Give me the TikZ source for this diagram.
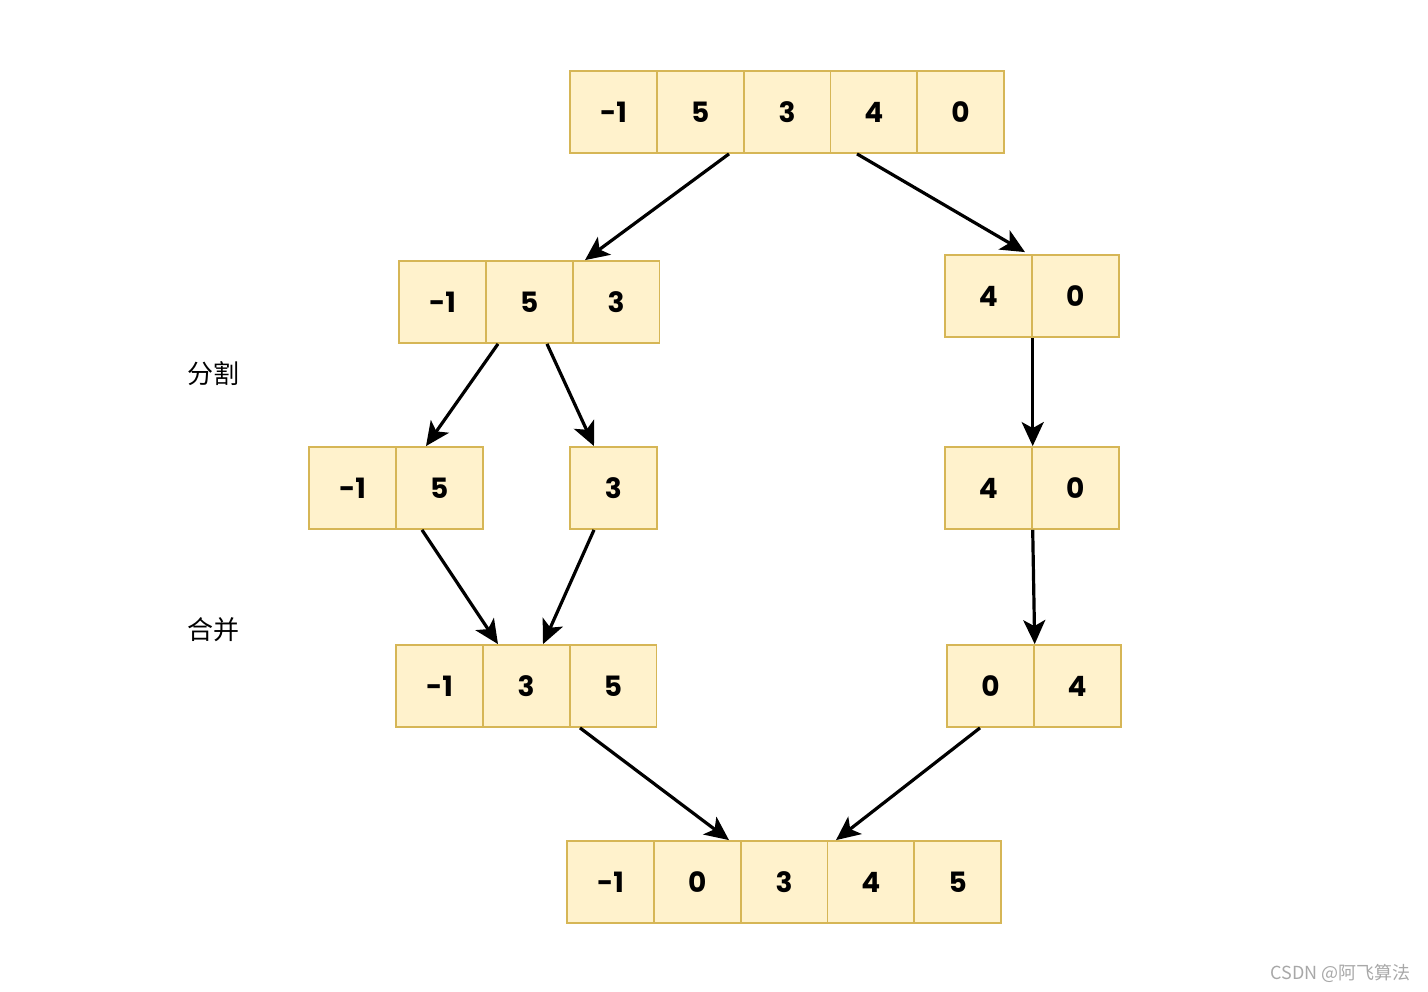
\documentclass[tikz,border=0pt]{standalone}
\usepackage{fontspec}
\setmainfont{Poppins}
\newfontfamily\cjk{Noto Sans CJK SC}
\usetikzlibrary{arrows.meta,calc}
\definecolor{cellfill}{HTML}{FFF2CC}
\definecolor{celldraw}{HTML}{D6B656}
\definecolor{wm}{HTML}{A8A8A8}
\tikzset{
  cell/.style={draw=celldraw,fill=cellfill,line width=1.8pt,minimum width=86.8pt,minimum height=82pt,inner sep=0pt,font=\fontsize{28}{28}\selectfont\bfseries},
  arr/.style={line width=3.2pt,-{Stealth[length=24pt,width=22pt,inset=6pt]}},
  lbl/.style={font=\cjk\fontsize{26}{26}\selectfont}
}
\begin{document}
\begin{tikzpicture}[x=1pt,y=-1pt]
\useasboundingbox (0,0) rectangle (1428,992);
% rows
\foreach \v [count=\i] in {-1,5,3,4,0}
  \node[cell] (a\i) at ({570+43.4+(\i-1)*86.8},112) {\v};
\foreach \v [count=\i] in {-1,5,3}
  \node[cell] (bl\i) at ({399+43.4+(\i-1)*86.8},302) {\v};
\foreach \v [count=\i] in {4,0}
  \node[cell] (br\i) at ({945+43.4+(\i-1)*86.8},296) {\v};
\foreach \v [count=\i] in {-1,5}
  \node[cell] (cl\i) at ({309+43.4+(\i-1)*86.8},488) {\v};
\node[cell] (cm) at (613.4,488) {3};
\foreach \v [count=\i] in {4,0}
  \node[cell] (cr\i) at ({945+43.4+(\i-1)*86.8},488) {\v};
\foreach \v [count=\i] in {-1,3,5}
  \node[cell] (dl\i) at ({396+43.4+(\i-1)*86.8},686) {\v};
\foreach \v [count=\i] in {0,4}
  \node[cell] (dr\i) at ({947+43.4+(\i-1)*86.8},686) {\v};
\foreach \v [count=\i] in {-1,0,3,4,5}
  \node[cell] (e\i) at ({567+43.4+(\i-1)*86.8},882) {\v};
% labels
\node[lbl] (split) at (213,374) {分割};
\node[lbl] (merge) at (213,630) {合并};
\node[font=\cjk\fontsize{18}{18}\selectfont,text=wm,anchor=east] (wmk) at (1414,973) {CSDN @阿飞算法};
% arrows
\draw[arr] ([xshift=28.8pt]a2.south) -- ([xshift=-31pt]bl3.north);
\draw[arr] ([xshift=-16.8pt]a4.south) -- ([xshift=36.6pt,yshift=2pt]br1.north);
\draw[arr] ([xshift=-31.2pt]bl2.south) -- ([xshift=-13.2pt]cl2.north);
\draw[arr] ([xshift=17.8pt]bl2.south) -- ([xshift=-19.4pt]cm.north);
\draw[arr] (br1.south east) -- (cr1.north east);
\draw[arr] ([xshift=-17.2pt]cl2.south) -- ([xshift=-28.2pt]dl2.north);
\draw[arr] ([xshift=-19.4pt]cm.south) -- ([xshift=16.8pt]dl2.north);
\draw[arr] (cr1.south east) -- (dr1.north east);
\draw[arr] ([xshift=-33pt]dl3.south) -- ([xshift=31.8pt]e2.north);
\draw[arr] ([xshift=-10.4pt]dr1.south) -- ([xshift=-34.8pt]e4.north);
\end{tikzpicture}
\end{document}
